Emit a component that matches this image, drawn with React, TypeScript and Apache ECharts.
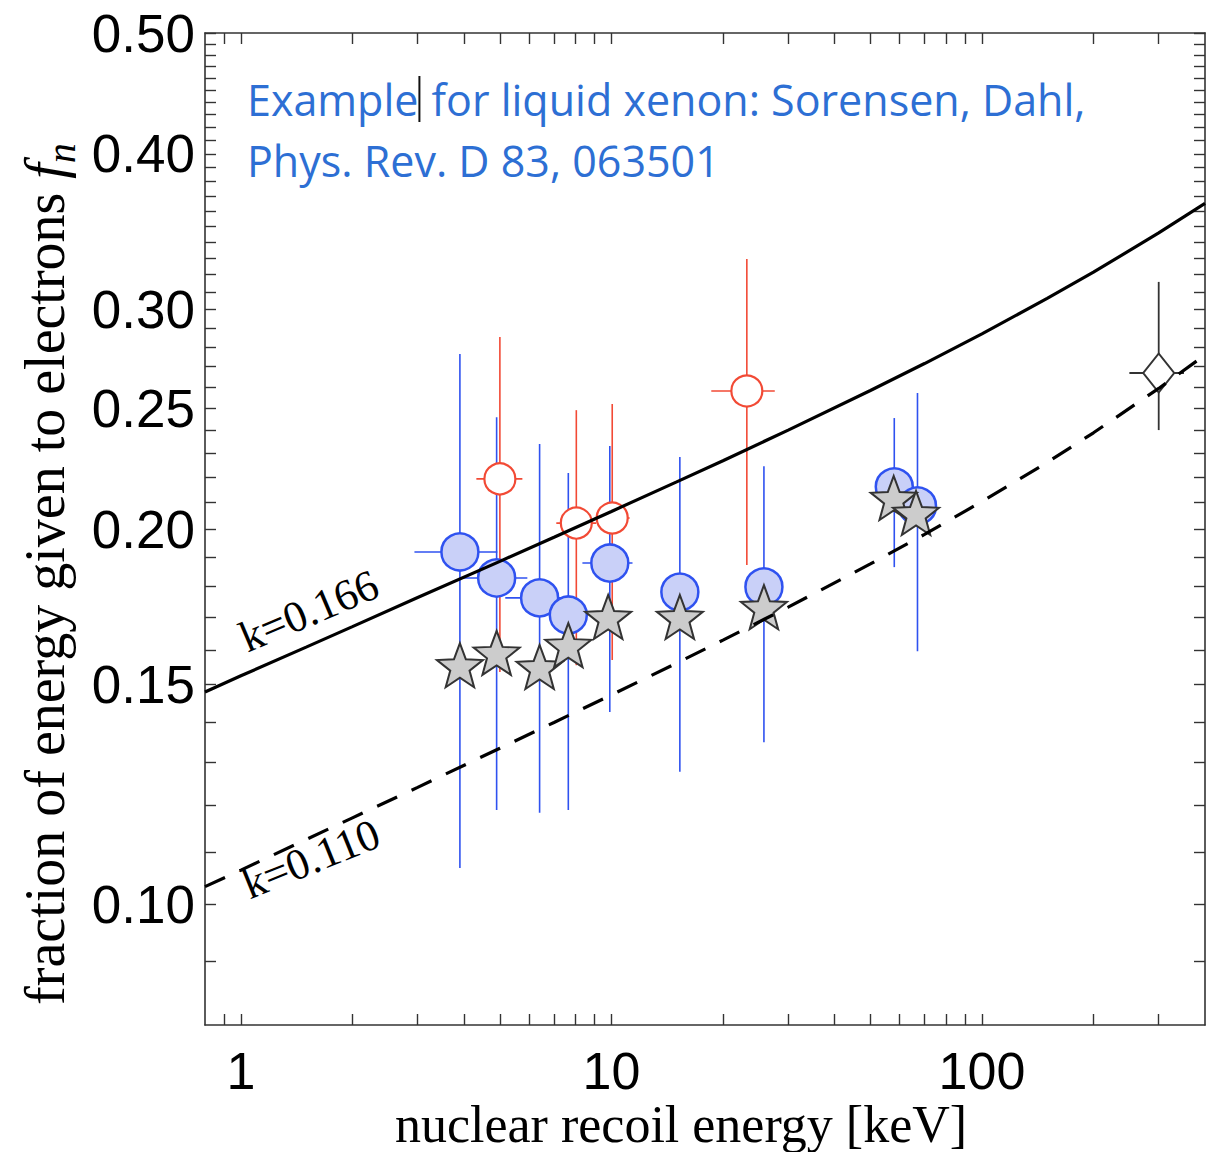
import React, { useEffect, useRef } from "react";
import * as echarts from "echarts";

// ---------- data ----------
const curveEnergy = [0.8, 1, 1.5, 2, 3, 5, 7, 10, 15, 20, 30, 50, 70, 100, 150, 200, 300, 400];
const curveK166 = [0.148, 0.1525, 0.1608, 0.167, 0.1762, 0.1884, 0.197, 0.2066, 0.2182, 0.2269, 0.2401, 0.2583, 0.2715, 0.2868, 0.3062, 0.3214, 0.3456, 0.365];
const curveK110 = [0.1033, 0.1065, 0.1127, 0.1173, 0.1241, 0.1334, 0.1399, 0.1472, 0.1561, 0.1629, 0.1731, 0.1875, 0.198, 0.2104, 0.2262, 0.2389, 0.2593, 0.2758];

const blueEnergy = [3.9, 4.9, 6.4, 7.65, 9.9, 15.3, 25.8, 58, 67];
const blueFrac = [0.1917, 0.1827, 0.1761, 0.1706, 0.1878, 0.178, 0.1797, 0.2162, 0.2087];
const blueEnergyLo = [2.94, 3.95, 5.17, 7.65, 8.35, 15.3, 25.8, 58, 67];
const blueEnergyHi = [4.92, 5.93, 8.0, 7.65, 11.4, 15.3, 25.8, 58, 67];
const blueFracLo = [0.1069, 0.119, 0.1184, 0.119, 0.1426, 0.1277, 0.1349, 0.1864, 0.1596];
const blueFracHi = [0.2763, 0.2459, 0.234, 0.2218, 0.2331, 0.2284, 0.2246, 0.2455, 0.2571];

const starEnergy = [3.9, 4.9, 6.4, 7.65, 9.8, 15.3, 25.8, 57.8, 66.4];
const starFrac = [0.1555, 0.1591, 0.155, 0.1614, 0.17, 0.17, 0.1731, 0.2118, 0.206];

const redEnergy = [5.0, 8.04, 10.05, 23.2];
const redFrac = [0.2194, 0.2022, 0.2041, 0.2581];
const redEnergyLo = [4.32, 7.1, 9.0, 18.6];
const redEnergyHi = [5.75, 9.1, 11.2, 27.6];
const redFracLo = [0.1536, 0.1555, 0.157, 0.1871];
const redFracHi = [0.2851, 0.2491, 0.2519, 0.3293];

const diamondEnergy = [300];
const diamondFrac = [0.2668];
const diamondEnergyLo = [250];
const diamondEnergyHi = [351];
const diamondFracLo = [0.2401];
const diamondFracHi = [0.3157];

const xRange = [0.8, 400];
const yRange = [0.08, 0.5];
const xTickValues = [0.9, 1, 2, 3, 4, 5, 6, 7, 8, 9, 10, 20, 30, 40, 50, 60, 70, 80, 90, 100, 200, 300];
const xLabelValues = [1, 10, 100];
const yTickValues = [
  0.09, 0.1, 0.11, 0.12, 0.13, 0.14, 0.15, 0.16, 0.17, 0.18, 0.19, 0.2, 0.21, 0.22, 0.23, 0.24, 0.25,
  0.26, 0.27, 0.28, 0.29, 0.3, 0.31, 0.32, 0.33, 0.34, 0.35, 0.36, 0.37, 0.38, 0.39, 0.4, 0.41, 0.42,
  0.43, 0.44, 0.45, 0.46, 0.47, 0.48, 0.49, 0.5,
];
const yLabelValues = [0.1, 0.15, 0.2, 0.25, 0.3, 0.4, 0.5];

const xTitle = "nuclear recoil energy [keV]";
const yTitle = "fraction of energy given to electrons ";
const noteLine1a = "Example";
const noteLine1b = "for liquid xenon: Sorensen, Dahl,";
const noteLine2 = "Phys. Rev. D 83, 063501";
const labelK166 = "k=0.166";
const labelK110 = "k=0.110";

// ---------- helpers ----------
const L = (v: number) => Math.log10(v);
const pts = (E: number[], F: number[]) => E.map((e, i) => [L(e), L(F[i])]);
const errPts = (E: number[], F: number[], El: number[], Eh: number[], Fl: number[], Fh: number[]) =>
  E.map((e, i) => [L(e), L(F[i]), L(El[i]), L(Eh[i]), L(Fl[i]), L(Fh[i])]);

const errRender = (color: string, lw: number) => (params: any, api: any) => {
  const x = api.value(0);
  const y = api.value(1);
  const c = api.coord([x, y]);
  const a = api.coord([api.value(2), y]);
  const b = api.coord([api.value(3), y]);
  const lo = api.coord([x, api.value(4)]);
  const hi = api.coord([x, api.value(5)]);
  return {
    type: "group",
    children: [
      { type: "line", shape: { x1: c[0], y1: lo[1], x2: c[0], y2: hi[1] }, style: { stroke: color, lineWidth: lw } },
      { type: "line", shape: { x1: a[0], y1: c[1], x2: b[0], y2: c[1] }, style: { stroke: color, lineWidth: lw } },
    ],
  };
};

const STAR =
  "path://M50,0 L62.3,33 L97.6,34.5 L70,56.5 L79.4,90.5 L50,71 L20.6,90.5 L30,56.5 L2.4,34.5 L37.7,33 Z";

const BLUE_LINE = "#2f52f0";
const BLUE_FILL = "#c9d0f8";
const RED = "#f24a35";
const FRAME = "#333333";
const NOTE = "#2d6fd4";

export default function App() {
  const ref = useRef<HTMLDivElement>(null);

  useEffect(() => {
    if (!ref.current) return;
    const chart = echarts.init(ref.current, null, { renderer: "svg" });

    const xAxisBase = {
      type: "value",
      min: L(xRange[0]),
      max: L(xRange[1]),
      splitLine: { show: false },
      axisLine: { show: true, onZero: false, lineStyle: { color: FRAME, width: 1.6 } },
      axisTick: {
        show: true,
        inside: true,
        length: 11,
        customValues: xTickValues.map(L),
        lineStyle: { color: FRAME, width: 1.4 },
      },
    };
    const yAxisBase = {
      type: "value",
      min: L(yRange[0]),
      max: L(yRange[1]),
      splitLine: { show: false },
      axisLine: { show: true, onZero: false, lineStyle: { color: FRAME, width: 1.6 } },
      axisTick: {
        show: true,
        inside: true,
        length: 11,
        customValues: yTickValues.map(L),
        lineStyle: { color: FRAME, width: 1.4 },
      },
    };

    const option: any = {
      animation: false,
      backgroundColor: "#ffffff",
      textStyle: { fontFamily: "Liberation Sans" },
      grid: { left: 205, top: 33, width: 1000, height: 992, containLabel: false },
      xAxis: [
        {
          ...xAxisBase,
          position: "bottom",
          axisLabel: {
            show: true,
            customValues: xLabelValues.map(L),
            formatter: (v: number) => String(Math.round(Math.pow(10, v))),
            fontFamily: "Liberation Sans",
            fontSize: 52,
            lineHeight: 52,
            color: "#000",
            margin: 20,
          },
        },
        { ...xAxisBase, position: "top", axisLabel: { show: false } },
      ],
      yAxis: [
        {
          ...yAxisBase,
          position: "left",
          axisLabel: {
            show: true,
            customValues: yLabelValues.map(L),
            formatter: (v: number) => Math.pow(10, v).toFixed(2),
            fontFamily: "Liberation Sans",
            fontSize: 53,
            color: "#000",
            margin: 10,
          },
        },
        { ...yAxisBase, position: "right", axisLabel: { show: false } },
      ],
      series: [
        {
          type: "line",
          data: pts(curveEnergy, curveK166),
          showSymbol: false,
          smooth: false,
          lineStyle: { color: "#000", width: 3.2 },
          silent: true,
        },
        {
          type: "line",
          data: pts(curveEnergy, curveK110),
          showSymbol: false,
          smooth: false,
          lineStyle: { color: "#000", width: 3.2, type: [22, 16] },
          silent: true,
        },
        {
          type: "custom",
          renderItem: errRender(BLUE_LINE, 1.6),
          data: errPts(blueEnergy, blueFrac, blueEnergyLo, blueEnergyHi, blueFracLo, blueFracHi),
          encode: { x: 0, y: 1 },
          silent: true,
        },
        {
          type: "scatter",
          data: pts(blueEnergy, blueFrac),
          symbol: "circle",
          symbolSize: 37,
          itemStyle: { color: BLUE_FILL, borderColor: BLUE_LINE, borderWidth: 2.5, opacity: 1 },
          silent: true,
        },
        {
          type: "scatter",
          data: pts(starEnergy, starFrac),
          symbol: STAR,
          symbolSize: [46, 44],
          itemStyle: { color: "#cccccc", borderColor: "#333333", borderWidth: 2, opacity: 1 },
          silent: true,
        },
        {
          type: "custom",
          renderItem: errRender(RED, 1.6),
          data: errPts(redEnergy, redFrac, redEnergyLo, redEnergyHi, redFracLo, redFracHi),
          encode: { x: 0, y: 1 },
          silent: true,
        },
        {
          type: "scatter",
          data: pts(redEnergy, redFrac),
          symbol: "circle",
          symbolSize: 31,
          itemStyle: { color: "#ffffff", borderColor: RED, borderWidth: 2.2, opacity: 1 },
          silent: true,
        },
        {
          type: "custom",
          renderItem: errRender("#333333", 1.8),
          data: errPts(diamondEnergy, diamondFrac, diamondEnergyLo, diamondEnergyHi, diamondFracLo, diamondFracHi),
          encode: { x: 0, y: 1 },
          silent: true,
        },
        {
          type: "scatter",
          data: pts(diamondEnergy, diamondFrac),
          symbol: "diamond",
          symbolSize: [31, 39],
          itemStyle: { color: "#ffffff", borderColor: "#333333", borderWidth: 2, opacity: 1 },
          silent: true,
        },
      ],
      graphic: [
        {
          type: "text",
          x: 247,
          y: 99,
          style: {
            text: `{t|${noteLine1a}}{c| }{t|${" " + noteLine1b}}`,
            verticalAlign: "middle",
            align: "left",
            rich: {
              t: { fontFamily: "Open Sans", fontSize: 43, fill: NOTE, color: NOTE },
              c: { width: 2, height: 46, backgroundColor: "#111111" },
            },
          },
        },
        {
          type: "text",
          x: 247,
          y: 160,
          style: {
            text: noteLine2,
            fontFamily: "Open Sans",
            fontSize: 43,
            fill: NOTE,
            verticalAlign: "middle",
            align: "left",
          },
        },
        {
          type: "text",
          x: 309,
          y: 611,
          rotation: (23 * Math.PI) / 180,
          style: {
            text: labelK166,
            fontFamily: "Liberation Serif",
            fontSize: 44,
            fill: "#000",
            align: "center",
            verticalAlign: "middle",
          },
        },
        {
          type: "text",
          x: 311,
          y: 859,
          rotation: (22 * Math.PI) / 180,
          style: {
            text: labelK110,
            fontFamily: "Liberation Serif",
            fontSize: 44,
            fill: "#000",
            align: "center",
            verticalAlign: "middle",
          },
        },
        {
          type: "text",
          x: 681,
          y: 1124,
          style: {
            text: xTitle,
            fontFamily: "Liberation Serif",
            fontSize: 52,
            lineHeight: 52,
            fill: "#000",
            align: "center",
            verticalAlign: "middle",
          },
        },
        {
          type: "text",
          x: 45,
          y: 574,
          rotation: Math.PI / 2,
          style: {
            text: `{a|${yTitle}}{f|f}{n|n}`,
            align: "center",
            verticalAlign: "middle",
            rich: {
              a: { fontFamily: "Liberation Serif", fontSize: 56, lineHeight: 72, verticalAlign: "middle", fill: "#000", color: "#000" },
              f: { fontFamily: "Liberation Serif", fontStyle: "italic", fontSize: 56, lineHeight: 72, verticalAlign: "middle", fill: "#000", color: "#000" },
              n: { fontFamily: "Liberation Serif", fontStyle: "italic", fontSize: 40, verticalAlign: "bottom", fill: "#000", color: "#000" },
            },
          },
        },
      ],
    };

    chart.setOption(option);
    return () => chart.dispose();
  }, []);

  return (
    <div
      ref={ref}
      style={{ position: "absolute", left: 0, top: 0, width: 1217, height: 1152, background: "#fff" }}
    />
  );
}
